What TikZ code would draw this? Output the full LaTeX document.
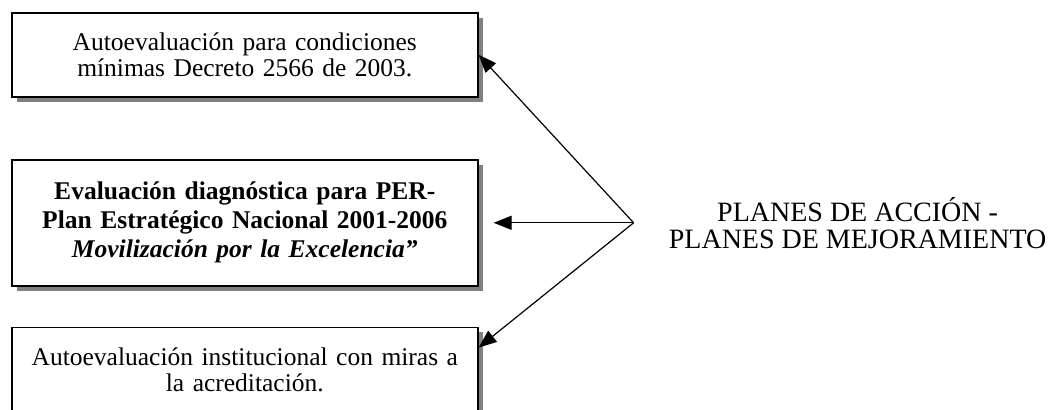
\documentclass[tikz,border=0pt]{standalone}
\usepackage{fontspec}
\setmainfont{Liberation Serif}
\usetikzlibrary{calc, arrows.meta, positioning, shadows}

\begin{document}
\begin{tikzpicture}[auto, node distance=2cm, >={Triangle[length=9pt, width=7pt]}, line width=0.6pt]
          % Definición de estilos para los cuadros y el texto
          \tikzstyle{caja} = [draw, rectangle, line width=0.8pt, fill=white, text width=223pt, inner xsep=5pt, align=center, font=\fontsize{12.75}{13}\selectfont, drop shadow={shadow xshift=2.5pt, shadow yshift=-2.5pt, fill=black!50, opacity=1}]
          \tikzstyle{planes} = [align=center, font=\fontsize{14}{13.5}\selectfont]

          % Área del dibujo
          \useasboundingbox (0,0) rectangle (526.5pt,-205pt);
          \clip (0,0) rectangle (526.5pt,-205pt);

          % Definición de nodos
          \node [caja, anchor=north west, minimum height=42pt] at (5.5pt,-6pt) (cond) {Autoevaluación para condiciones\\ mínimas Decreto 2566 de 2003.};
          \node [caja, below=30.7pt of cond, minimum height=63pt, font=\fontsize{12.75}{14.5}\selectfont\bfseries] (per) {Evaluación diagnóstica para PER-\\ Plan Estratégico Nacional 2001-2006\\ \textit{Movilización por la Excelencia”}};
          \node [caja, below=20pt of per, minimum height=42pt] (acred) {Autoevaluación institucional con miras a\\ la acreditación.};
          \node [coordinate, right=7.5pt of per] (punta) {};
          \node [coordinate, right=70pt of punta] (vertice) {}; % Punto de partida de las flechas
          \node [planes, right=14pt of vertice] (accion) {PLANES DE ACCIÓN -\\ PLANES DE MEJORAMIENTO};

          % Conexiones entre nodos
          \draw [->] (vertice) -- (cond.east);
          \draw [->] (vertice) -- (punta);
          \draw [->] (vertice) -- ($(acred.north east)+(0,-10.5pt)$);
        \end{tikzpicture}
\end{document}
